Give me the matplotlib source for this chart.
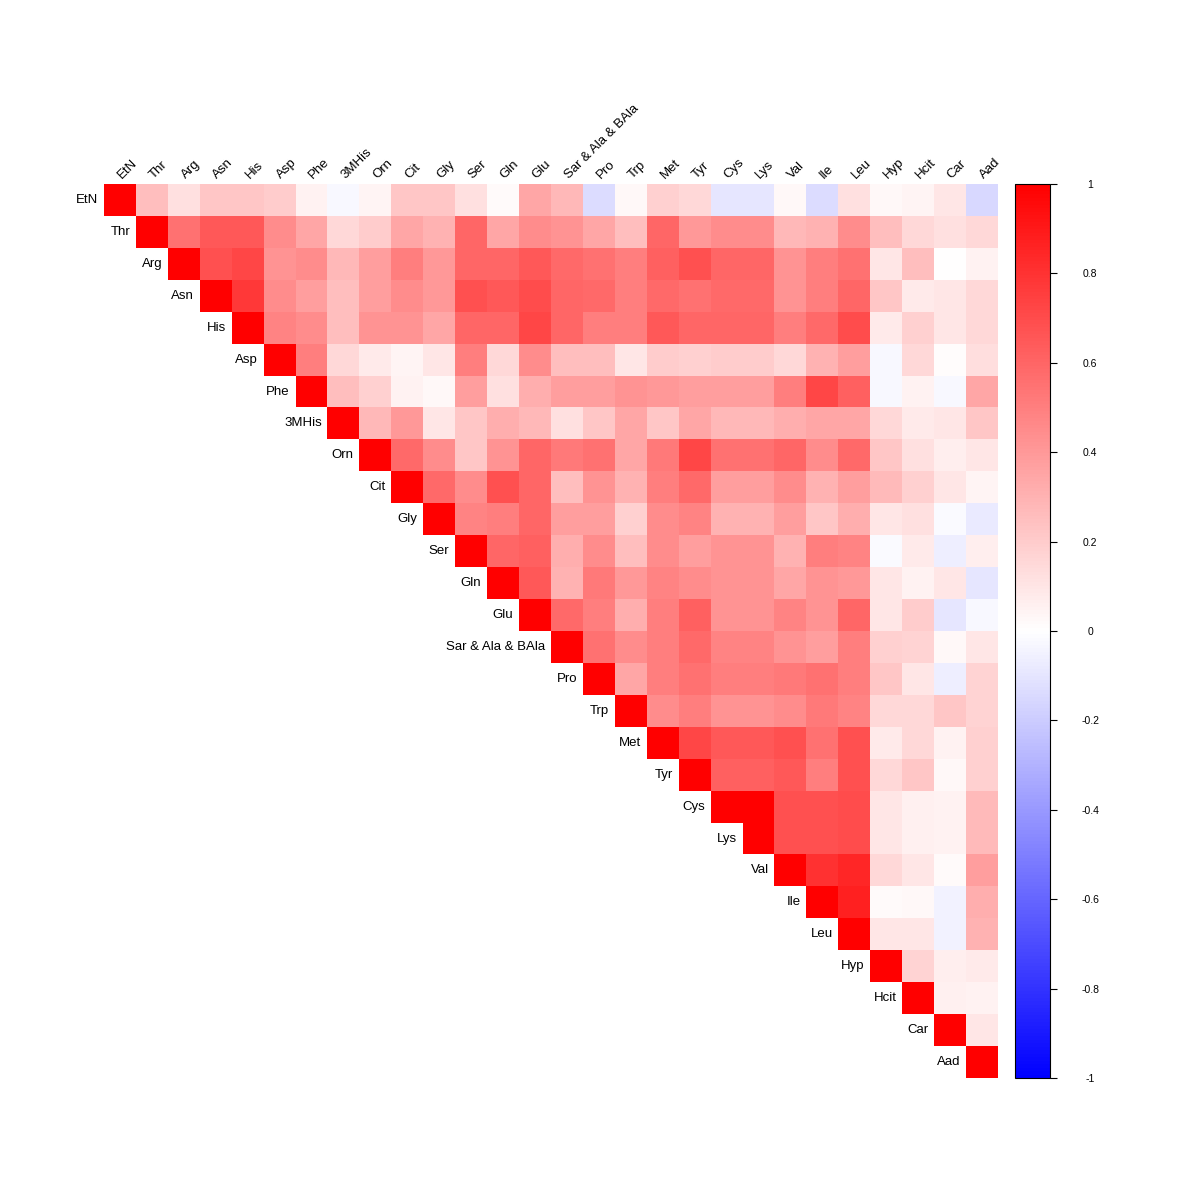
import numpy as np
import matplotlib
matplotlib.use("Agg")
import matplotlib.pyplot as plt
from matplotlib.colors import LinearSegmentedColormap

plt.rcParams['font.family'] = ['Liberation Sans', 'DejaVu Sans']

labels = ["EtN", "Thr", "Arg", "Asn", "His", "Asp", "Phe", "3MHis", "Orn", "Cit",
          "Gly", "Ser", "Gln", "Glu", "Sar & Ala & BAla", "Pro", "Trp", "Met", "Tyr",
          "Cys", "Lys", "Val", "Ile", "Leu", "Hyp", "Hcit", "Car", "Aad"]

# upper triangle, row i holds correlations with columns i+1 .. end
upper = [
    [0.25, 0.12, 0.22, 0.22, 0.20, 0.05, -0.03, 0.04, 0.22, 0.22, 0.12, 0.02, 0.35, 0.28,
     -0.14, 0.03, 0.18, 0.15, -0.10, -0.10, 0.03, -0.14, 0.12, 0.03, 0.04, 0.10, -0.15],
    [0.55, 0.65, 0.65, 0.45, 0.35, 0.15, 0.20, 0.35, 0.30, 0.60, 0.35, 0.45, 0.42, 0.35,
     0.25, 0.60, 0.40, 0.45, 0.45, 0.28, 0.30, 0.45, 0.25, 0.15, 0.12, 0.15],
    [0.68, 0.72, 0.42, 0.45, 0.28, 0.38, 0.50, 0.40, 0.60, 0.60, 0.65, 0.58, 0.55, 0.50,
     0.62, 0.68, 0.60, 0.60, 0.42, 0.50, 0.55, 0.10, 0.25, 0.00, 0.05],
    [0.78, 0.45, 0.38, 0.25, 0.38, 0.45, 0.40, 0.68, 0.65, 0.70, 0.60, 0.58, 0.50, 0.58,
     0.55, 0.58, 0.58, 0.42, 0.50, 0.60, 0.22, 0.08, 0.10, 0.15],
    [0.48, 0.45, 0.25, 0.42, 0.42, 0.35, 0.60, 0.60, 0.72, 0.60, 0.50, 0.50, 0.65, 0.60,
     0.60, 0.60, 0.50, 0.58, 0.70, 0.08, 0.18, 0.10, 0.15],
    [0.50, 0.15, 0.08, 0.04, 0.10, 0.50, 0.15, 0.45, 0.25, 0.25, 0.10, 0.20, 0.18, 0.20,
     0.20, 0.15, 0.30, 0.38, -0.03, 0.15, 0.01, 0.13],
    [0.25, 0.18, 0.05, 0.03, 0.38, 0.12, 0.32, 0.38, 0.38, 0.42, 0.40, 0.38, 0.38, 0.38,
     0.50, 0.72, 0.62, -0.03, 0.05, -0.03, 0.35],
    [0.28, 0.40, 0.10, 0.22, 0.32, 0.28, 0.12, 0.22, 0.35, 0.22, 0.35, 0.28, 0.28, 0.32,
     0.35, 0.35, 0.15, 0.08, 0.10, 0.22],
    [0.58, 0.45, 0.22, 0.42, 0.60, 0.52, 0.55, 0.35, 0.52, 0.72, 0.55, 0.55, 0.60, 0.45,
     0.58, 0.22, 0.12, 0.07, 0.10],
    [0.58, 0.45, 0.68, 0.60, 0.25, 0.42, 0.30, 0.50, 0.58, 0.38, 0.38, 0.45, 0.30, 0.38,
     0.27, 0.18, 0.10, 0.04],
    [0.48, 0.50, 0.60, 0.38, 0.38, 0.18, 0.45, 0.48, 0.30, 0.30, 0.38, 0.22, 0.32, 0.10,
     0.12, -0.02, -0.08],
    [0.60, 0.62, 0.32, 0.45, 0.25, 0.45, 0.38, 0.42, 0.42, 0.30, 0.50, 0.48, -0.02, 0.08,
     -0.07, 0.07],
    [0.65, 0.30, 0.52, 0.40, 0.48, 0.45, 0.42, 0.42, 0.35, 0.42, 0.40, 0.10, 0.05, 0.10,
     -0.10],
    [0.58, 0.50, 0.32, 0.50, 0.62, 0.42, 0.42, 0.48, 0.42, 0.60, 0.10, 0.20, -0.10, -0.03],
    [0.55, 0.45, 0.50, 0.58, 0.48, 0.48, 0.42, 0.38, 0.50, 0.18, 0.17, 0.03, 0.10],
    [0.35, 0.50, 0.55, 0.50, 0.50, 0.52, 0.55, 0.50, 0.22, 0.10, -0.07, 0.17],
    [0.45, 0.50, 0.42, 0.42, 0.45, 0.52, 0.48, 0.15, 0.15, 0.22, 0.17],
    [0.72, 0.65, 0.65, 0.68, 0.55, 0.68, 0.08, 0.15, 0.05, 0.18],
    [0.62, 0.62, 0.65, 0.50, 0.68, 0.15, 0.22, 0.03, 0.18],
    [1.00, 0.68, 0.68, 0.70, 0.10, 0.06, 0.05, 0.27],
    [0.68, 0.68, 0.70, 0.10, 0.06, 0.05, 0.27],
    [0.80, 0.85, 0.15, 0.10, 0.02, 0.38],
    [0.87, 0.02, 0.03, -0.05, 0.32],
    [0.10, 0.10, -0.05, 0.30],
    [0.17, 0.07, 0.08],
    [0.06, 0.05],
    [0.10],
]

n = len(labels)
mat = np.full((n, n), np.nan)
for i in range(n):
    mat[i, i] = 1.0
    for k, v in enumerate(upper[i] if i < len(upper) else []):
        mat[i, i + 1 + k] = v

cmap = LinearSegmentedColormap.from_list("bwr2", ["#0000FF", "#FFFFFF", "#FF0000"], N=256)
cmap.set_bad("white")

fig = plt.figure(figsize=(12, 12), dpi=100)
W = 1200.0
ax = fig.add_axes([104 / W, 1 - 1078 / W, 894 / W, 894 / W])
im = ax.imshow(np.ma.masked_invalid(mat), cmap=cmap, vmin=-1, vmax=1,
               extent=(0, n, n, 0), interpolation="nearest", aspect="auto")
ax.set_xlim(0, n)
ax.set_ylim(n, 0)
ax.axis("off")

for i, lab in enumerate(labels):
    # row labels next to the diagonal
    ax.text(i - 0.18, i + 0.5, lab, ha="right", va="center", fontsize=9.5, color="black")
    # column labels along the top
    ax.text(i + 0.62, -0.08, lab, ha="left", va="bottom", rotation=45,
            rotation_mode="anchor", fontsize=9.5, color="black")

cax = fig.add_axes([1015 / W, 1 - 1078 / W, 35 / W, 894 / W])
cb = fig.colorbar(im, cax=cax)
ticks = np.round(np.arange(-1, 1.01, 0.2), 1)
cb.set_ticks(ticks)
cb.set_ticklabels(["%g" % t if t != 0 else "0" for t in ticks])
cb.outline.set_linewidth(0.8)
cax.tick_params(axis="y", length=5, width=0.8, pad=24, labelsize=7.5)
for t in cax.get_yticklabels():
    t.set_ha("center")

fig.savefig("out.png", dpi=100, facecolor="white")
